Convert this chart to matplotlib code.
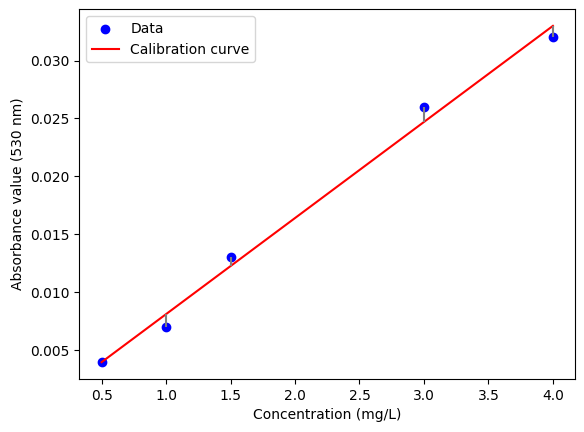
import matplotlib
matplotlib.use("Agg")
import matplotlib.pyplot as plt
import numpy as np

# measured calibration data
concentration = np.array([0.5, 1.0, 1.5, 3.0, 4.0])
absorbance = np.array([0.004, 0.007, 0.013, 0.026, 0.032])

# linear fit
slope, intercept = np.polyfit(concentration, absorbance, 1)
fitted = slope * concentration + intercept

fig = plt.figure(figsize=(5.84, 4.32), dpi=100)
plt.subplots_adjust(left=0.1353, right=0.9854, bottom=0.1227, top=0.979)
plt.scatter(concentration, absorbance, color='blue', label='Data')
plt.plot(concentration, fitted, color='red', label='Calibration curve')
plt.vlines(concentration, absorbance, fitted, color='gray')

plt.xlabel('Concentration (mg/L)')
plt.ylabel('Absorbance value (530 nm)')
plt.legend(loc='upper left')
plt.savefig('out.png')
